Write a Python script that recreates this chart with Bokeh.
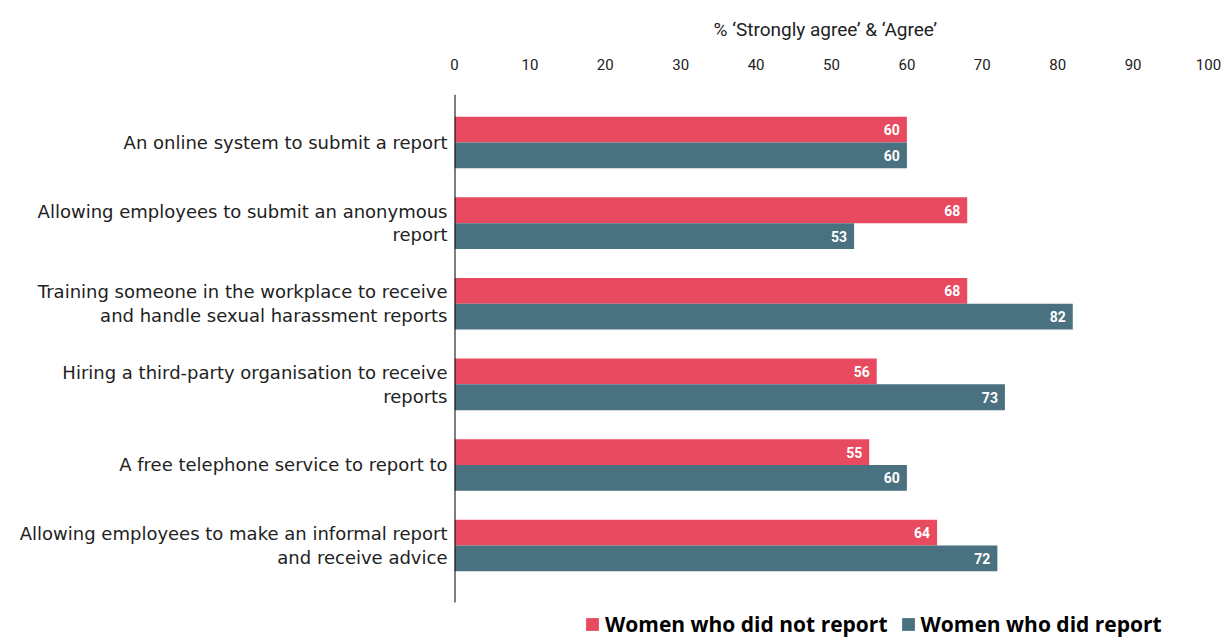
from bokeh.plotting import figure
from bokeh.models import Range1d, FixedTicker, ColumnDataSource, Legend, LegendItem
from bokeh.core.properties import value
from bokeh.embed import file_html
from bokeh.resources import INLINE

categories = [
    "An online system to submit a report",
    "Allowing employees to submit an anonymous\nreport",
    "Training someone in the workplace to receive\nand handle sexual harassment reports",
    "Hiring a third-party organisation to receive\nreports",
    "A free telephone service to report to",
    "Allowing employees to make an informal report\nand receive advice",
]
not_reported = [60, 68, 68, 56, 55, 64]
reported = [60, 53, 82, 73, 60, 72]
x_ticks = [0, 10, 20, 30, 40, 50, 60, 70, 80, 90, 100]
series_names = ["Women who did not report", "Women who did report"]
axis_title = "% \u2018Strongly agree\u2019 & \u2018Agree\u2019"

RED = "#E84A5F"
TEAL = "#4A717F"

n = len(categories)
pos = list(range(n))
bar_h = 0.32
y_red = [i - bar_h / 2 for i in pos]
y_teal = [i + bar_h / 2 for i in pos]
y_top = -0.596
y_axis_bottom = n - 1 + 0.707
y_bottom = n - 1 + 1.141

p = figure(width=1229, height=637, output_backend="svg", toolbar_location=None,
           x_range=Range1d(0, 100), y_range=Range1d(y_bottom, y_top),
           x_axis_location="above", min_border_left=454, min_border_right=21,
           min_border_top=94, min_border_bottom=0)
p.outline_line_color = None
p.grid.visible = False
p.background_fill_color = "white"
p.border_fill_color = "white"

src_r = ColumnDataSource(dict(y=y_red, v=not_reported, t=[str(v) for v in not_reported]))
src_t = ColumnDataSource(dict(y=y_teal, v=reported, t=[str(v) for v in reported]))
r1 = p.hbar(y="y", left=0, right="v", height=bar_h, source=src_r, fill_color=RED, line_color=None)
r2 = p.hbar(y="y", left=0, right="v", height=bar_h, source=src_t, fill_color=TEAL, line_color=None)

# vertical axis line (only down to the last category)
p.segment(x0=[0], x1=[0], y0=[y_top], y1=[y_axis_bottom], line_color="black", line_width=2)

for src in (src_r, src_t):
    p.text(x="v", y="y", text="t", source=src, x_offset=-7, text_align="right",
           text_baseline="middle", text_color="white", text_font=value("Roboto"),
           text_font_style="bold", text_font_size="14px")

xa = p.xaxis[0]
xa.ticker = FixedTicker(ticks=x_ticks)
xa.axis_line_color = None
xa.major_tick_line_color = None
xa.minor_tick_line_color = None
xa.major_label_text_font = "Roboto"
xa.major_label_text_font_size = "15px"
xa.major_label_text_color = "#222222"
xa.major_label_standoff = 19

p.title.text = axis_title
p.title.text_font = "Roboto"
p.title.text_font_size = "19px"
p.title.text_font_style = "normal"
p.title.text_color = "#222222"
p.title.align = "left"
p.title.offset = 259
p.title.standoff = 30

ya = p.yaxis[0]
ya.ticker = FixedTicker(ticks=pos)
ya.major_label_overrides = {i: c for i, c in zip(pos, categories)}
ya.axis_line_color = None
ya.major_tick_line_color = None
ya.minor_tick_line_color = None
ya.major_label_text_font = "DejaVu Sans"
ya.major_label_text_font_size = "18px"
ya.major_label_text_color = "#222222"
ya.major_label_text_line_height = 1.12
ya.major_label_standoff = 1

legend = Legend(items=[LegendItem(label=series_names[0], renderers=[r1]),
                       LegendItem(label=series_names[1], renderers=[r2])],
                orientation="horizontal", location=(130, -1))
legend.label_text_font = "Open Sans"
legend.label_text_font_style = "bold"
legend.label_text_font_size = "21px"
legend.label_text_color = "black"
legend.glyph_width = 16
legend.glyph_height = 16
legend.label_standoff = 5
legend.spacing = 12
legend.padding = 0
legend.margin = 0
legend.border_line_color = None
legend.background_fill_alpha = 0
p.add_layout(legend, "center")

open("out.html", "w").write(file_html(p, INLINE))
